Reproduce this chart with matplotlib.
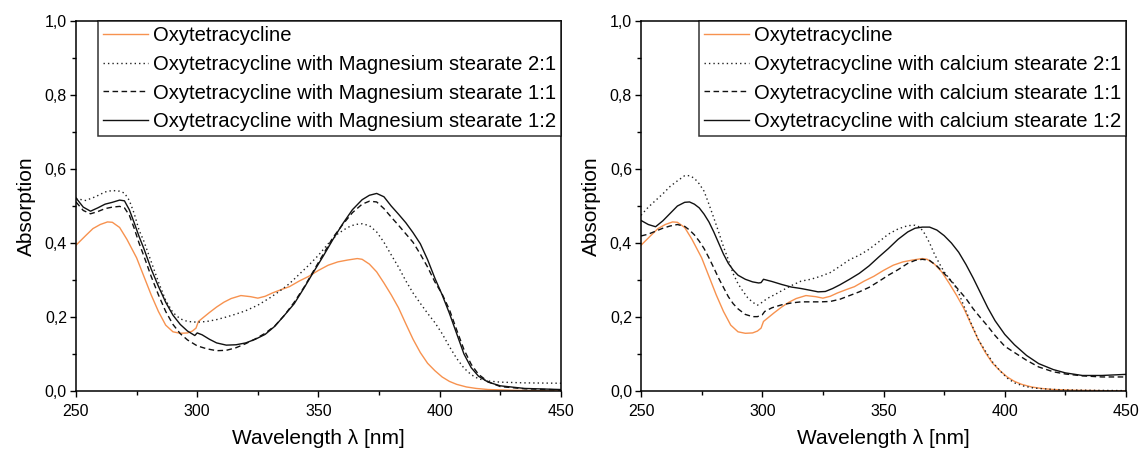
import numpy as np
import matplotlib
matplotlib.use("Agg")
import matplotlib.pyplot as plt
from matplotlib.ticker import MultipleLocator, FuncFormatter

plt.rcParams['font.family'] = ['Liberation Sans', 'DejaVu Sans']

# pure oxytetracycline (same measurement in both panels)
wl_otc = [250, 254, 257, 260, 263, 265, 268, 271, 275, 278, 281, 284, 287, 290, 293, 296, 298, 299.5,
          300.5, 302, 305, 308, 311, 314, 318, 322, 325, 328, 331, 335, 338, 342, 346, 350, 354, 358,
          362, 366, 368, 371, 374, 377, 380, 383, 386, 389, 392, 395, 398, 401, 404, 407, 411, 415,
          420, 430, 440, 450]
a_otc = [0.394, 0.42, 0.439, 0.45, 0.457, 0.456, 0.442, 0.41, 0.36, 0.31, 0.26, 0.215, 0.178, 0.16,
         0.156, 0.157, 0.162, 0.17, 0.188, 0.196, 0.212, 0.227, 0.24, 0.25, 0.258, 0.255, 0.251,
         0.256, 0.265, 0.275, 0.282, 0.297, 0.31, 0.326, 0.34, 0.349, 0.354, 0.358, 0.356, 0.343,
         0.322, 0.292, 0.26, 0.225, 0.182, 0.14, 0.104, 0.075, 0.055, 0.038, 0.026, 0.018, 0.011,
         0.007, 0.004, 0.002, 0.001, 0.0]

# magnesium stearate mixtures
wl_mg21 = [250, 254, 258, 262, 265, 268, 270, 272, 274, 276, 278, 281, 284, 287, 290, 293, 296, 300,
           304, 308, 312, 316, 320, 325, 330, 334, 338, 342, 346, 350, 354, 358, 362, 365, 368, 371,
           374, 377, 380, 383, 386, 389, 392, 395, 398, 401, 404, 407, 410, 413, 416, 420, 425, 435, 450]
a_mg21 = [0.52, 0.515, 0.525, 0.538, 0.542, 0.54, 0.535, 0.515, 0.48, 0.435, 0.405, 0.35, 0.295,
          0.245, 0.212, 0.195, 0.188, 0.186, 0.188, 0.193, 0.2, 0.208, 0.217, 0.232, 0.252, 0.27,
          0.29, 0.315, 0.34, 0.367, 0.398, 0.425, 0.442, 0.45, 0.452, 0.447, 0.43, 0.402, 0.368,
          0.335, 0.298, 0.265, 0.237, 0.21, 0.185, 0.155, 0.12, 0.088, 0.062, 0.044, 0.033, 0.027,
          0.024, 0.022, 0.021]

wl_mg11 = [250, 253, 256, 259, 262, 265, 268, 270, 272, 274, 276, 278, 281, 284, 287, 290, 293, 296,
           300, 304, 308, 312, 316, 320, 324, 328, 332, 336, 340, 344, 348, 352, 356, 360, 364, 368,
           371, 374, 377, 380, 383, 386, 389, 392, 395, 398, 401, 404, 407, 410, 413, 416, 420, 425,
           435, 450]
a_mg11 = [0.511, 0.488, 0.479, 0.485, 0.493, 0.497, 0.499, 0.495, 0.475, 0.44, 0.4, 0.365, 0.31,
          0.26, 0.215, 0.18, 0.155, 0.138, 0.122, 0.114, 0.109, 0.11, 0.117, 0.128, 0.141, 0.156,
          0.176, 0.205, 0.24, 0.28, 0.325, 0.37, 0.415, 0.45, 0.482, 0.505, 0.513, 0.511, 0.493,
          0.47, 0.448, 0.425, 0.402, 0.37, 0.335, 0.295, 0.262, 0.22, 0.165, 0.112, 0.072, 0.045,
          0.025, 0.012, 0.006, 0.003]

wl_mg12 = [250, 253, 256, 259, 262, 265, 268, 270, 272, 274, 276, 278, 281, 284, 287, 290, 293, 296,
           299, 300, 302, 305, 308, 312, 316, 320, 324, 328, 332, 336, 340, 344, 348, 352, 356, 360,
           364, 368, 371, 374, 377, 380, 383, 386, 389, 392, 395, 398, 401, 404, 407, 410, 413, 416,
           420, 425, 435, 450]
a_mg12 = [0.522, 0.497, 0.486, 0.495, 0.505, 0.51, 0.516, 0.514, 0.49, 0.455, 0.418, 0.385, 0.33,
          0.283, 0.24, 0.205, 0.18, 0.162, 0.15, 0.157, 0.152, 0.14, 0.13, 0.124, 0.125, 0.13, 0.14,
          0.153, 0.175, 0.205, 0.236, 0.278, 0.322, 0.365, 0.41, 0.452, 0.49, 0.517, 0.529, 0.534,
          0.525, 0.5, 0.478, 0.455, 0.428, 0.398, 0.355, 0.305, 0.26, 0.21, 0.155, 0.1, 0.063, 0.04,
          0.024, 0.014, 0.007, 0.004]

# calcium stearate mixtures
wl_ca21 = [250, 253, 256, 259, 262, 265, 268, 270, 272, 274, 276, 278, 280, 282, 284, 286, 288, 290,
           292, 294, 296, 298, 300, 302, 305, 308, 312, 316, 320, 324, 328, 332, 336, 340, 344, 348,
           352, 356, 360, 363, 365, 367, 369, 371, 373, 375, 377, 379, 381, 383, 386, 389, 392, 395,
           398, 401, 404, 408, 412, 418, 425, 435, 450]
a_ca21 = [0.475, 0.497, 0.515, 0.533, 0.553, 0.568, 0.582, 0.582, 0.575, 0.56, 0.54, 0.505, 0.468,
          0.43, 0.39, 0.355, 0.317, 0.29, 0.27, 0.252, 0.24, 0.232, 0.24, 0.25, 0.26, 0.271, 0.285,
          0.297, 0.302, 0.31, 0.32, 0.337, 0.355, 0.367, 0.383, 0.403, 0.424, 0.438, 0.447, 0.448,
          0.443, 0.425, 0.4, 0.37, 0.345, 0.322, 0.305, 0.29, 0.265, 0.232, 0.185, 0.14, 0.108,
          0.078, 0.055, 0.035, 0.022, 0.013, 0.008, 0.005, 0.003, 0.002, 0.001]

wl_ca11 = [250, 253, 256, 259, 262, 265, 268, 270, 272, 274, 276, 278, 280, 282, 284, 286, 288, 290,
           293, 296, 298, 300, 301, 304, 308, 312, 316, 320, 324, 328, 332, 336, 340, 344, 348, 352,
           356, 360, 363, 366, 369, 372, 375, 378, 381, 384, 387, 390, 393, 396, 400, 404, 409, 414,
           420, 425, 432, 440, 450]
a_ca11 = [0.419, 0.424, 0.432, 0.44, 0.446, 0.45, 0.445, 0.435, 0.422, 0.405, 0.385, 0.36, 0.333,
          0.305, 0.28, 0.255, 0.236, 0.222, 0.207, 0.201, 0.201, 0.206, 0.215, 0.225, 0.233, 0.238,
          0.241, 0.241, 0.241, 0.242, 0.248, 0.258, 0.268, 0.28, 0.296, 0.313, 0.328, 0.345, 0.353,
          0.356, 0.353, 0.338, 0.318, 0.296, 0.273, 0.25, 0.222, 0.198, 0.175, 0.15, 0.121, 0.104,
          0.083, 0.065, 0.052, 0.046, 0.041, 0.038, 0.038]

wl_ca12 = [250, 253, 256, 259, 262, 265, 268, 270, 272, 274, 276, 278, 280, 282, 284, 286, 288, 290,
           293, 296, 298.5, 299.5, 300.5, 304, 308, 312, 316, 320, 323, 326, 329, 332, 336, 340, 344,
           348, 352, 356, 360, 363, 366, 369, 372, 375, 378, 381, 384, 387, 390, 393, 396, 400, 404,
           409, 414, 420, 425, 432, 440, 450]
a_ca12 = [0.461, 0.45, 0.444, 0.46, 0.48, 0.5, 0.51, 0.511, 0.505, 0.495, 0.478, 0.457, 0.43,
          0.4, 0.37, 0.345, 0.327, 0.313, 0.302, 0.295, 0.292, 0.293, 0.302, 0.296, 0.288, 0.281,
          0.277, 0.272, 0.268, 0.269, 0.277, 0.287, 0.302, 0.318, 0.338, 0.362, 0.385, 0.41, 0.43,
          0.44, 0.443, 0.443, 0.435, 0.42, 0.4, 0.375, 0.342, 0.305, 0.265, 0.225, 0.19, 0.153,
          0.125, 0.096, 0.074, 0.058, 0.049, 0.042, 0.042, 0.045]

labels_mg = ["Oxytetracycline",
             "Oxytetracycline with Magnesium stearate 2:1",
             "Oxytetracycline with Magnesium stearate 1:1",
             "Oxytetracycline with Magnesium stearate 1:2"]
labels_ca = ["Oxytetracycline",
             "Oxytetracycline with calcium stearate 2:1",
             "Oxytetracycline with calcium stearate 1:1",
             "Oxytetracycline with calcium stearate 1:2"]

orange = '#f7924f'
styles = [dict(color=orange, lw=1.0, ls='-'),
          dict(color='#222222', lw=1.0, ls=(0, (1, 2.2))),
          dict(color='#111111', lw=1.0, ls=(0, (4, 2.5))),
          dict(color='#111111', lw=1.0, ls='-')]

fig = plt.figure(figsize=(11.39, 4.51), dpi=100)
ax1 = fig.add_axes([0.0667, 0.133, 0.4258, 0.8204])
ax2 = fig.add_axes([0.5628, 0.133, 0.4258, 0.8204])

comma = FuncFormatter(lambda v, p: f"{v:.1f}".replace('.', ','))

panels = [
    (ax1, [(wl_otc, a_otc), (wl_mg21, a_mg21), (wl_mg11, a_mg11), (wl_mg12, a_mg12)], labels_mg),
    (ax2, [(wl_otc, a_otc), (wl_ca21, a_ca21), (wl_ca11, a_ca11), (wl_ca12, a_ca12)], labels_ca),
]

for ax, series, labels in panels:
    for (x, y), st, lab in zip(series, styles, labels):
        ax.plot(x, y, label=lab, **st)
    ax.set_xlim(250, 450)
    ax.set_ylim(0, 1.0)
    ax.xaxis.set_major_locator(MultipleLocator(50))
    ax.xaxis.set_minor_locator(MultipleLocator(25))
    ax.yaxis.set_major_locator(MultipleLocator(0.2))
    ax.yaxis.set_minor_locator(MultipleLocator(0.1))
    ax.yaxis.set_major_formatter(comma)
    ax.tick_params(which='major', direction='out', length=4.5, width=1, labelsize=11.5, pad=2)
    ax.tick_params(axis='x', which='major', pad=5)
    ax.tick_params(which='minor', direction='out', length=2.8, width=1)
    ax.tick_params(top=False, right=False)
    for sp in ax.spines.values():
        sp.set_linewidth(1.1)
    ax.set_xlabel("Wavelength λ [nm]", fontsize=15, labelpad=7)
    ax.set_ylabel("Absorption", fontsize=15, labelpad=6)
    leg = ax.legend(loc='upper right', fontsize=14.6, frameon=True, fancybox=False,
                    borderaxespad=0, borderpad=0.25, labelspacing=0.48,
                    handlelength=2.2, handletextpad=0.25)
    leg.get_frame().set_edgecolor('black')
    leg.get_frame().set_linewidth(1.1)

fig.savefig("out.png", dpi=100)
